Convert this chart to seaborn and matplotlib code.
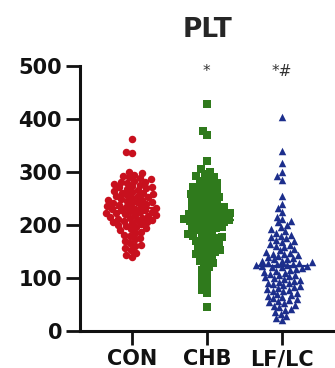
import numpy as np
import pandas as pd
import matplotlib
matplotlib.use("Agg")
import matplotlib.pyplot as plt
from matplotlib.collections import PathCollection
import seaborn as sns

groups = ["CON", "CHB", "LF/LC"]

con = [362, 338, 335, 301, 298, 295, 292, 290, 288, 286, 284, 282, 281, 279, 277, 276,
       274, 272, 271, 269, 268, 266, 264, 263, 261, 260, 258, 257, 255, 254, 252, 251,
       250, 248, 247, 246, 244, 243, 242, 240, 239, 238, 236, 235, 234, 232, 231, 230,
       229, 228, 226, 225, 224, 223, 222, 220, 219, 218, 217, 215, 214, 213, 212, 210,
       209, 208, 206, 205, 203, 202, 200, 198, 196, 194, 192, 190, 187, 185, 182, 180,
       176, 173, 170, 166, 163, 160, 156, 152, 147, 143, 140]
chb = [428, 378, 370, 320, 305, 300, 296, 292, 290, 287, 284, 280, 278, 275, 272, 270,
       268, 265, 262, 260, 258, 256, 254, 252, 250, 248, 246, 244, 242, 240, 238, 236,
       234, 232, 230, 228, 226, 225, 224, 222, 220, 219, 218, 216, 215, 214, 212, 211,
       210, 209, 208, 206, 205, 204, 202, 200, 198, 196, 195, 193, 190, 188, 186, 184,
       182, 180, 178, 176, 175, 172, 170, 168, 166, 164, 160, 158, 155, 152, 150, 147,
       145, 142, 140, 136, 132, 128, 125, 120, 115, 110, 104, 98, 92, 85, 78, 72, 45]
lflc = [403, 339, 318, 300, 292, 285, 254, 240, 233, 225, 216, 212, 208, 205, 200, 196,
        192, 188, 185, 182, 180, 178, 175, 172, 170, 168, 165, 162, 160, 158, 155, 152,
        150, 148, 146, 145, 143, 141, 140, 138, 136, 135, 133, 132, 130, 129, 128, 127,
        126, 125, 124, 123, 122, 121, 120, 118, 117, 115, 114, 112, 110, 108, 106, 105,
        103, 101, 100, 98, 96, 95, 93, 91, 90, 88, 86, 85, 83, 81, 80, 78, 76, 75, 72,
        70, 68, 66, 64, 62, 60, 58, 56, 54, 52, 50, 48, 45, 42, 40, 36, 32, 28, 25, 21]

colors = ["#c8101e", "#2f7a1c", "#1c2e8c"]
markers = ["o", "s", "^"]
marks = ["", "*", "*#"]

sns.set_style("ticks")
plt.rcParams["font.family"] = ["DejaVu Sans"]

fig = plt.figure(figsize=(3.35, 3.68), dpi=100)
ax = fig.add_axes([0.239, 0.1005, 0.761, 0.720])

for i, (g, vals) in enumerate(zip(groups, [con, chb, lflc])):
    df = pd.DataFrame({"group": g, "PLT": vals})
    sns.swarmplot(data=df, x="group", y="PLT", order=groups, color=colors[i],
                  marker=markers[i], size=4.1, linewidth=0, ax=ax, warn_thresh=1)
    med = np.median(vals)
    ax.hlines(med, i - 0.36, i + 0.36, color=colors[i], lw=1.6, zorder=5)
    if marks[i]:
        ax.text(i, 490, marks[i], ha="center", va="center", fontsize=11,
                color="#333333")

ax.set_xlim(-0.69, 2.71)
ax.set_ylim(0, 500)
ax.set_yticks([0, 100, 200, 300, 400, 500])
ax.set_xlabel("")
ax.set_ylabel("")
sns.despine(ax=ax)
for s in ["left", "bottom"]:
    ax.spines[s].set_linewidth(2.2)
    ax.spines[s].set_color("#111111")
ax.tick_params(length=10, width=2, labelsize=15, pad=3, colors="#111111")
for lab in ax.get_xticklabels() + ax.get_yticklabels():
    lab.set_fontweight("bold")
fig.text(0.618, 0.918, "PLT", fontsize=19, fontweight="bold", ha="center", va="center")

# lay the swarms out at the small size, then freeze them and enlarge the marks
fig.canvas.draw()
for c in ax.collections:
    if isinstance(c, PathCollection):
        c.draw = (lambda renderer, c=c: PathCollection.draw(c, renderer))
        c.set_sizes([5.4 ** 2])

fig.savefig("out.png", dpi=100)
